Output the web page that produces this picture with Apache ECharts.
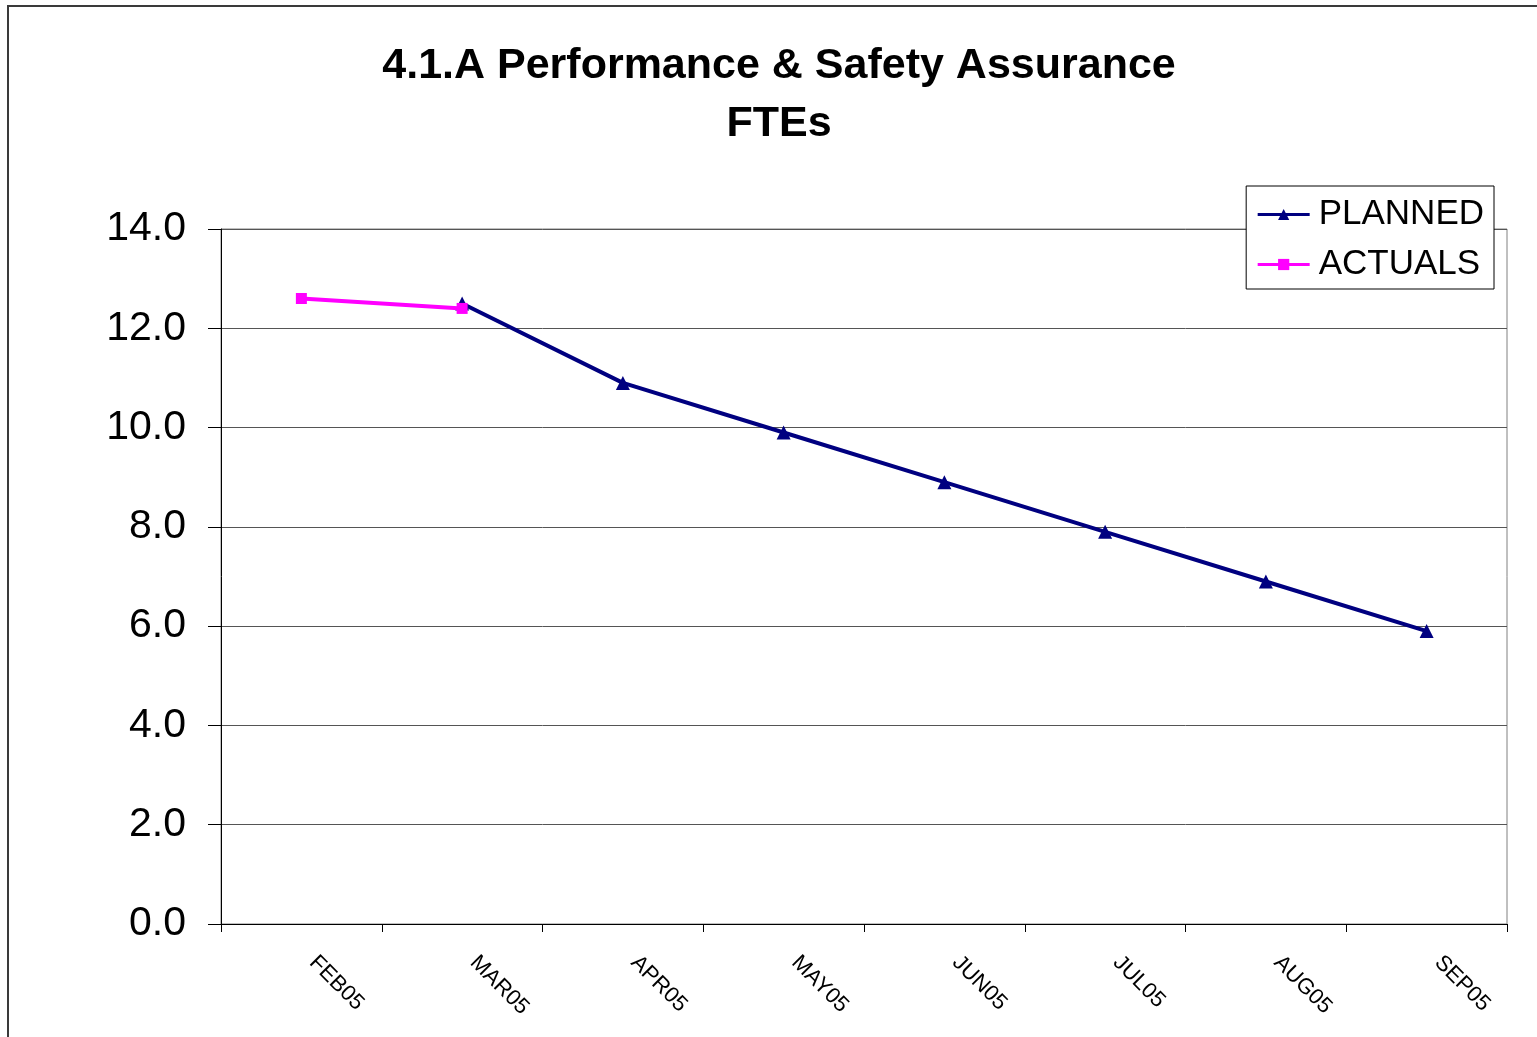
<!DOCTYPE html>
<html>
<head>
<meta charset="utf-8">
<script src="https://cdn.jsdelivr.net/npm/echarts@6/dist/echarts.min.js"></script>
<style>
html,body{margin:0;padding:0;background:#fff;}
#chart{width:1537px;height:1037px;}
</style>
</head>
<body>
<div id="chart"></div>
<script>
const categories = ['FEB05','MAR05','APR05','MAY05','JUN05','JUL05','AUG05','SEP05'];
const planned = [null, 12.5, 10.9, 9.9, 8.9, 7.9, 6.9, 5.9];
const actuals = [12.6, 12.4, null, null, null, null, null, null];
const yTicks = [0, 2, 4, 6, 8, 10, 12, 14];
const titleLines = ['4.1.A Performance & Safety Assurance', 'FTEs'];

const chart = echarts.init(document.getElementById('chart'), null, {renderer:'canvas'});
const FONT = '"Liberation Sans", Arial, sans-serif';

chart.setOption({
  animation: false,
  backgroundColor: '#fff',
  graphic: [
    {type:'rect', shape:{x:8, y:6, width:1700, height:1200}, style:{fill:'none', stroke:'#3a3a3a', lineWidth:2}, z:0},
    {type:'text', x:779, y:37, style:{text:titleLines.join('\n'), fill:'#000', font:'bold 43px ' + FONT, textAlign:'center', textVerticalAlign:'top', lineHeight:58}, z:10}
  ],
  grid: {left:221, top:229, right:30, bottom:113, show:true, borderColor:'#808080', borderWidth:1, backgroundColor:'#fff'},
  legend: {
    right: 43, top: 186, orient:'vertical',
    backgroundColor:'#fff', borderColor:'#000', borderWidth:1,
    padding:[10,10,6,10], itemGap:13, itemWidth:52, itemHeight:14,
    lineStyle:{width:3},
    textStyle:{fontFamily:FONT, fontSize:35, color:'#000', lineHeight:37, padding:[0,0,0,4]},
    data:['PLANNED','ACTUALS']
  },
  xAxis: {
    type:'category', data:categories, boundaryGap:true,
    axisLine:{lineStyle:{color:'#000', width:1}},
    axisTick:{show:true, length:8, lineStyle:{color:'#000'}},
    axisLabel:{rotate:-45, margin:24, padding:[0,0,0,16], color:'#000', fontFamily:FONT, fontSize:22, interval:0}
  },
  yAxis: {
    type:'value', min:0, max:14, interval:2,
    axisLine:{show:true, lineStyle:{color:'#000', width:1}},
    axisTick:{show:true, length:13, lineStyle:{color:'#000'}},
    axisLabel:{margin:35, padding:[4,0,0,0], color:'#000', fontFamily:FONT, fontSize:41, formatter:v => yTicks.includes(v) ? v.toFixed(1) : ''},
    splitLine:{show:true, lineStyle:{color:'#555', width:1}}
  },
  series: [
    {name:'PLANNED', type:'line', data:planned, connectNulls:false,
     symbol:'triangle', symbolSize:14, showAllSymbol:true,
     lineStyle:{color:'#000080', width:4}, itemStyle:{color:'#000080'}, z:3},
    {name:'ACTUALS', type:'line', data:actuals, connectNulls:false,
     symbol:'rect', symbolSize:11, showAllSymbol:true,
     lineStyle:{color:'#FF00FF', width:4}, itemStyle:{color:'#FF00FF'}, z:4}
  ]
});
</script>
</body>
</html>
